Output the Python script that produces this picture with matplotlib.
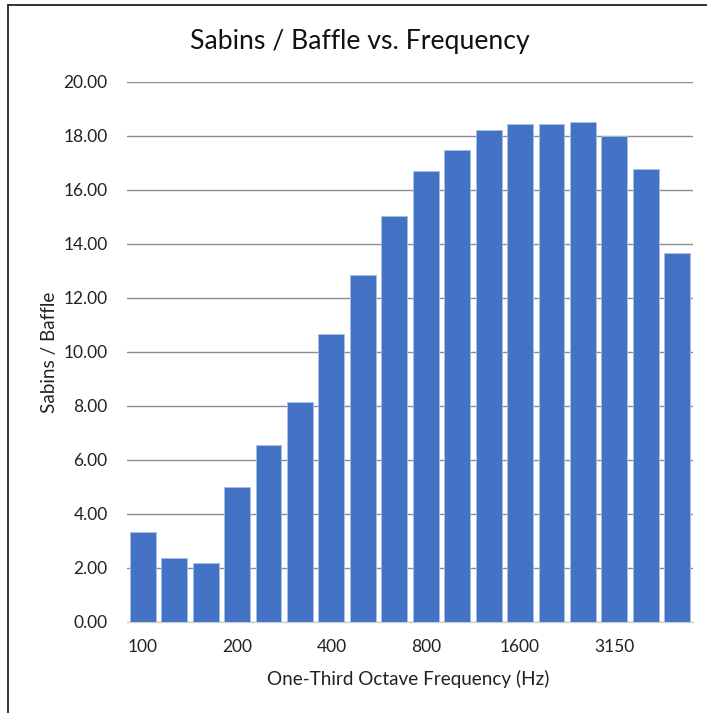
import matplotlib
matplotlib.use("Agg")
import matplotlib.pyplot as plt
from matplotlib.patches import Rectangle

frequencies = ["100", "125", "160", "200", "250", "315", "400", "500", "630",
               "800", "1000", "1250", "1600", "2000", "2500", "3150", "4000", "5000"]
sabins = [3.35, 2.38, 2.20, 4.99, 6.54, 8.16, 10.66, 12.85, 15.05,
          16.72, 17.47, 18.23, 18.46, 18.46, 18.52, 18.00, 16.78, 13.66]
yticks = [0, 2, 4, 6, 8, 10, 12, 14, 16, 18, 20]

plt.rcParams['font.family'] = ['Lato', 'DejaVu Sans']

W, H = 707, 713
fig = plt.figure(figsize=(W / 100, H / 100), dpi=100)
fig.patch.set_facecolor('white')

# outer chart border (top and left visible)
fig.add_artist(Rectangle((8 / W, -0.05), 1.2, (H - 5) / H + 0.05, transform=fig.transFigure,
                         fill=False, edgecolor='#222222', linewidth=1.3))

ax = fig.add_axes([127 / W, (H - 622) / H, (693 - 127) / W, (622 - 82) / H])
x = list(range(len(frequencies)))
ax.bar(x, sabins, width=0.82, color='#4472C4', edgecolor='#a8bfe6', linewidth=0.6, zorder=3)

ax.set_xlim(-0.5, len(frequencies) - 0.5)
ax.set_ylim(0, 20)
ax.set_yticks(yticks)
ax.set_yticklabels([f"{v:.2f}" for v in yticks], fontsize=12.5, color='#222222')
ax.set_xticks(x)
ax.set_xticklabels([f if i % 3 == 0 else '' for i, f in enumerate(frequencies)],
                   fontsize=12.5, color='#222222')
ax.tick_params(axis='both', length=0)
ax.tick_params(axis='x', pad=12)
ax.tick_params(axis='y', pad=14)
ax.grid(axis='y', color='#8c8c8c', linewidth=1.0, zorder=0)
for s in ['top', 'right', 'left']:
    ax.spines[s].set_visible(False)
ax.spines['bottom'].set_color('#d0d0d0')
ax.spines['bottom'].set_linewidth(1.0)

fig.text(360 / W, 1 - 42 / H, "Sabins / Baffle vs. Frequency", ha='center', va='center',
         fontsize=19.2, color='#111111')
fig.text(408 / W, 1 - 679 / H, "One-Third Octave Frequency (Hz)", ha='center', va='center',
         fontsize=13.6, color='#222222')
fig.text(49 / W, 1 - 352 / H, "Sabins / Baffle", ha='center', va='center', rotation=90,
         fontsize=13.6, color='#222222')

fig.savefig("out.png", dpi=100)
